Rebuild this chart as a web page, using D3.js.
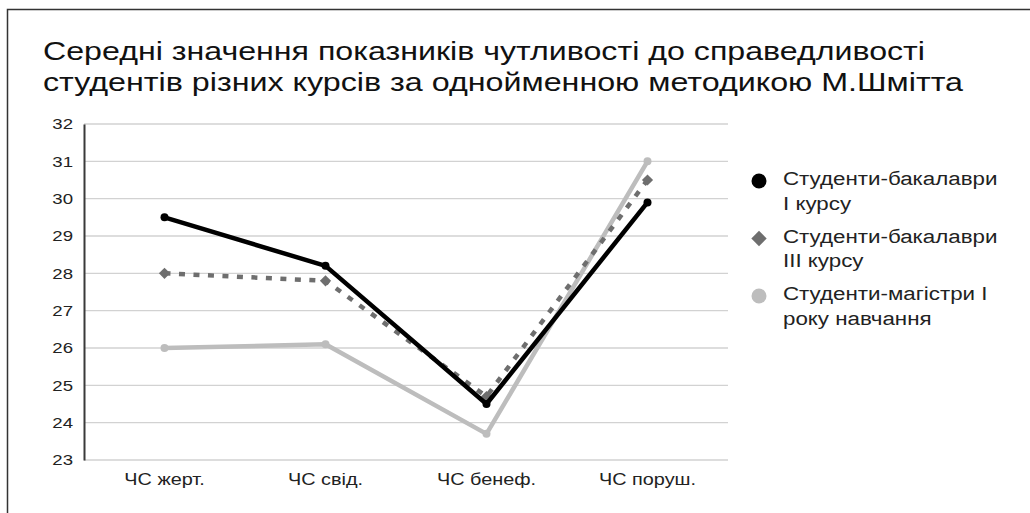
<!DOCTYPE html>
<html>
<head>
<meta charset="utf-8">
<script src="https://cdn.jsdelivr.net/npm/d3@7"></script>
<style>
  body { margin: 0; background: #fff; }
  text { font-family: "Liberation Sans", Arial, sans-serif; }
</style>
</head>
<body>
<script>
// chart data
var categories = ["ЧС жерт.", "ЧС свід.", "ЧС бенеф.", "ЧС поруш."];
var bachelors1 = [29.5, 28.2, 24.5, 29.9];
var bachelors3 = [28.0, 27.8, 24.7, 30.5];
var masters1 = [26.0, 26.1, 23.7, 31.0];
var seriesNames = [["Студенти-бакалаври", "I курсу"], ["Студенти-бакалаври", "III курсу"], ["Студенти-магістри I", "року навчання"]];
var yTicks = [23, 24, 25, 26, 27, 28, 29, 30, 31, 32];
var titleLines = ["Середні значення показників чутливості до справедливості",
                  "студентів різних курсів за однойменною методикою М.Шмітта"];

var W = 1030, H = 513;
var margin = {top: 124, right: 302, bottom: 53, left: 84},
    width = W - margin.left - margin.right,
    height = H - margin.top - margin.bottom;

// the original picture is a bit wider than normal text
var stretchK = 1.24;
function stretch(sel) {
    sel.each(function() {
        var w = this.getComputedTextLength();
        d3.select(this)
            .attr("textLength", w * stretchK)
            .attr("lengthAdjust", "spacingAndGlyphs");
    });
}

var svg = d3.select("body").append("svg")
    .attr("width", W)
    .attr("height", H);

// frame (top and left edges only are visible)
svg.append("path")
    .attr("d", "M7.5," + H + "V9.5H" + W)
    .attr("fill", "none")
    .attr("stroke", "#333")
    .attr("stroke-width", 1.5);

// title
var titleWidths = [882, 920];
svg.selectAll(".title").data(titleLines).enter().append("text")
    .attr("class", "title")
    .attr("x", 43)
    .attr("y", function(d, i) { return 60 + i * 31; })
    .attr("font-size", 26.5)
    .attr("fill", "#111")
    .attr("textLength", function(d, i) { return titleWidths[i]; })
    .attr("lengthAdjust", "spacingAndGlyphs")
    .text(function(d) { return d; });

var g = svg.append("g")
    .attr("transform", "translate(" + margin.left + "," + margin.top + ")");

var x = d3.scaleBand().domain(categories).range([0, width]);
var y = d3.scaleLinear().domain([23, 32]).range([height, 0]);

// gridlines
g.append("g")
    .selectAll("line").data(yTicks).enter().append("line")
    .attr("x1", 0).attr("x2", width)
    .attr("y1", function(d) { return y(d); })
    .attr("y2", function(d) { return y(d); })
    .attr("stroke", "#d2d2d2")
    .attr("stroke-width", 1.3);

// y axis
var yAxis = d3.axisLeft(y).tickValues(yTicks).tickSize(0).tickPadding(11);
g.append("g")
    .call(yAxis)
    .call(function(s) {
        s.select(".domain").attr("stroke", "#3a3a3a").attr("stroke-width", 2);
        s.selectAll("text").attr("font-size", 15).attr("fill", "#222")
            .style("font-family", "Liberation Sans, Arial, sans-serif")
            .call(stretch);
    });

// x axis
var xAxis = d3.axisBottom(x).tickSize(0).tickPadding(9);
g.append("g")
    .attr("transform", "translate(0," + height + ")")
    .call(xAxis)
    .call(function(s) {
        s.select(".domain").remove();
        s.selectAll("text").attr("font-size", 16).attr("fill", "#222")
            .attr("dy", "1em")
            .style("font-family", "Liberation Sans, Arial, sans-serif")
            .call(stretch);
    });

var cx = function(d, i) { return x(categories[i]) + x.bandwidth() / 2; };

var line = d3.line()
    .x(cx)
    .y(function(d) { return y(d); });

// light gray series
g.append("path").datum(masters1)
    .attr("d", line).attr("fill", "none")
    .attr("stroke", "#bdbdbd").attr("stroke-width", 4.5)
    .attr("stroke-linejoin", "round");
g.selectAll(".m3").data(masters1).enter().append("circle")
    .attr("cx", cx).attr("cy", function(d) { return y(d); })
    .attr("r", 4).attr("fill", "#bdbdbd");

// dotted gray series
g.append("path").datum(bachelors3)
    .attr("d", line).attr("fill", "none")
    .attr("stroke", "#6e6e6e").attr("stroke-width", 4.5)
    .attr("stroke-dasharray", "6,8.5");
var diamond = d3.symbol().type(d3.symbolDiamond2).size(80);
g.selectAll(".m2").data(bachelors3).enter().append("path")
    .attr("transform", function(d, i) { return "translate(" + cx(d, i) + "," + y(d) + ")"; })
    .attr("d", diamond)
    .attr("fill", "#6e6e6e");

// black series
g.append("path").datum(bachelors1)
    .attr("d", line).attr("fill", "none")
    .attr("stroke", "#000").attr("stroke-width", 4.5)
    .attr("stroke-linejoin", "round");
g.selectAll(".m1").data(bachelors1).enter().append("circle")
    .attr("cx", cx).attr("cy", function(d) { return y(d); })
    .attr("r", 4).attr("fill", "#000");

// legend
var legendColors = ["#000", "#6e6e6e", "#bdbdbd"];
var legend = svg.append("g").attr("transform", "translate(759,181)");
var items = legend.selectAll(".item").data(seriesNames).enter().append("g")
    .attr("transform", function(d, i) { return "translate(0," + (i * 57.5) + ")"; });
items.each(function(d, i) {
    var it = d3.select(this);
    if (i === 1) {
        it.append("path")
            .attr("d", d3.symbol().type(d3.symbolDiamond2).size(150))
            .attr("fill", legendColors[i]);
    } else {
        it.append("circle").attr("r", 7.5).attr("fill", legendColors[i]);
    }
    it.selectAll("text").data(d).enter().append("text")
        .attr("x", 24)
        .attr("y", function(t, j) { return 4 + j * 24.5; })
        .attr("font-size", 18)
        .attr("fill", "#222")
        .text(function(t) { return t; })
        .call(stretch);
});
</script>
</body>
</html>
